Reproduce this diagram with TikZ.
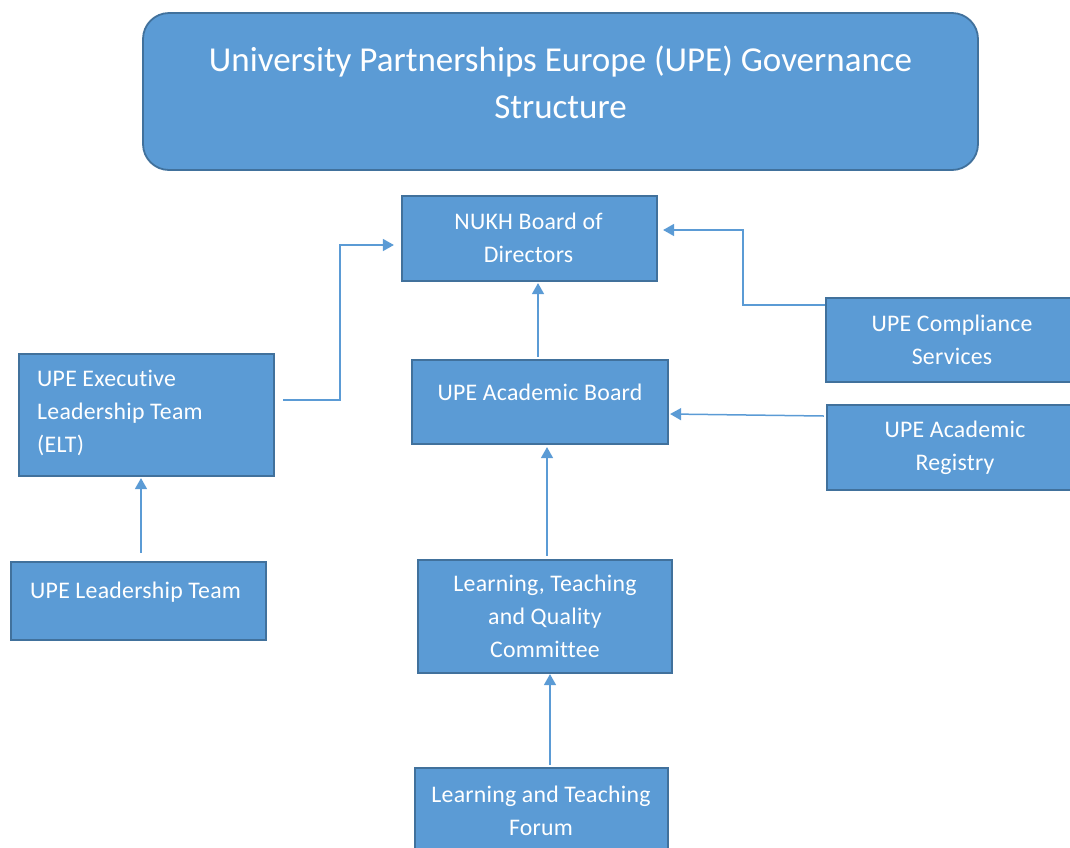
\documentclass[tikz,border=0pt]{standalone}
\usepackage{fontspec}
\setmainfont{Carlito}[Ligatures={NoCommon}]
\newfontfamily\boxfont{Carlito}[Ligatures={NoCommon},LetterSpace=1]
\usetikzlibrary{arrows.meta,calc}
\definecolor{boxfill}{HTML}{5B9BD5}
\definecolor{boxline}{HTML}{41719C}
\begin{document}
\begin{tikzpicture}[x=1pt,y=-1pt,
  box/.style={draw=boxline,fill=boxfill,line width=2.2pt,inner sep=0pt,minimum width=#1},
  txt/.style={text=white,font=\boxfont\fontsize{23.8}{33}\selectfont,inner sep=0pt,align=center},
  conn/.style={draw=boxfill,line width=1.5pt,-{Triangle[length=11pt,width=12pt]}}]
\useasboundingbox (0,0) rectangle (1070,847);
% title
\node[draw=boxline,fill=boxfill,line width=1.8pt,rounded corners=26pt,minimum width=835pt,minimum height=157pt] (title) at (560.5,91.5) {};
\node[txt,font=\fontsize{35}{47}\selectfont] (titletxt) at (560.5,82) {University Partnerships Europe (UPE) Governance\\Structure};
% boxes
\node[box=255pt,minimum height=85pt] (nukh) at (529.5,238.5) {};
\node[txt] (nukhtxt) at (528.5,238) {NUKH Board of\\Directors};
\node[box=256pt,minimum height=84pt] (ab) at (540,402) {};
\node[txt] (abtxt) at (540,392.5) {UPE Academic Board};
\node[box=254pt,minimum height=84pt] (comp) at (953,340) {};
\node[txt] (comptxt) at (952,339.5) {UPE Compliance\\Services};
\node[box=254pt,minimum height=85pt] (reg) at (954,447.5) {};
\node[txt] (regtxt) at (955,447.5) {UPE Academic\\Registry};
\node[box=255pt,minimum height=122pt] (elt) at (146.5,415) {};
\node[txt,align=left,anchor=west] (elttxt) at (37,412.5) {UPE Executive\\Leadership Team\\(ELT)};
\node[box=255pt,minimum height=78pt] (lt) at (138.5,601) {};
\node[txt,anchor=west] (lttxt) at (30,592.5) {UPE Leadership Team};
\node[box=254pt,minimum height=113pt] (ltqc) at (545,616.5) {};
\node[txt] (ltqctxt) at (545,616.5) {Learning, Teaching\\and Quality\\Committee};
\node[box=253pt,minimum height=90pt] (ltf) at (541.5,813) {};
\node[txt] (ltftxt) at (541,811) {Learning and Teaching\\Forum};
% connectors
\draw[conn] ($(elt.east)+(8,-15)$) -- ++(57,0) |- ($(nukh.west)+(-7,6.5)$);
\draw[conn] ($(comp.west)+(0,-35)$) -- ++(-82,0) |- ($(nukh.east)+(5,-8.5)$);
\draw[conn] ($(ab.north)+(-2,-2)$) -- ($(nukh.south)+(8.5,1)$);
\draw[conn] ($(reg.west)+(-2,-31.5)$) -- ($(ab.east)+(1,12)$);
\draw[conn] ($(ltqc.north)+(2,-3)$) -- ($(ab.south)+(7,2)$);
\draw[conn] ($(ltf.north)+(8.5,-2)$) -- ($(ltqc.south)+(5,0)$);
\draw[conn] ($(lt.north)+(2.5,-8)$) -- ($(elt.south)+(-5.5,1)$);
\end{tikzpicture}
\end{document}
